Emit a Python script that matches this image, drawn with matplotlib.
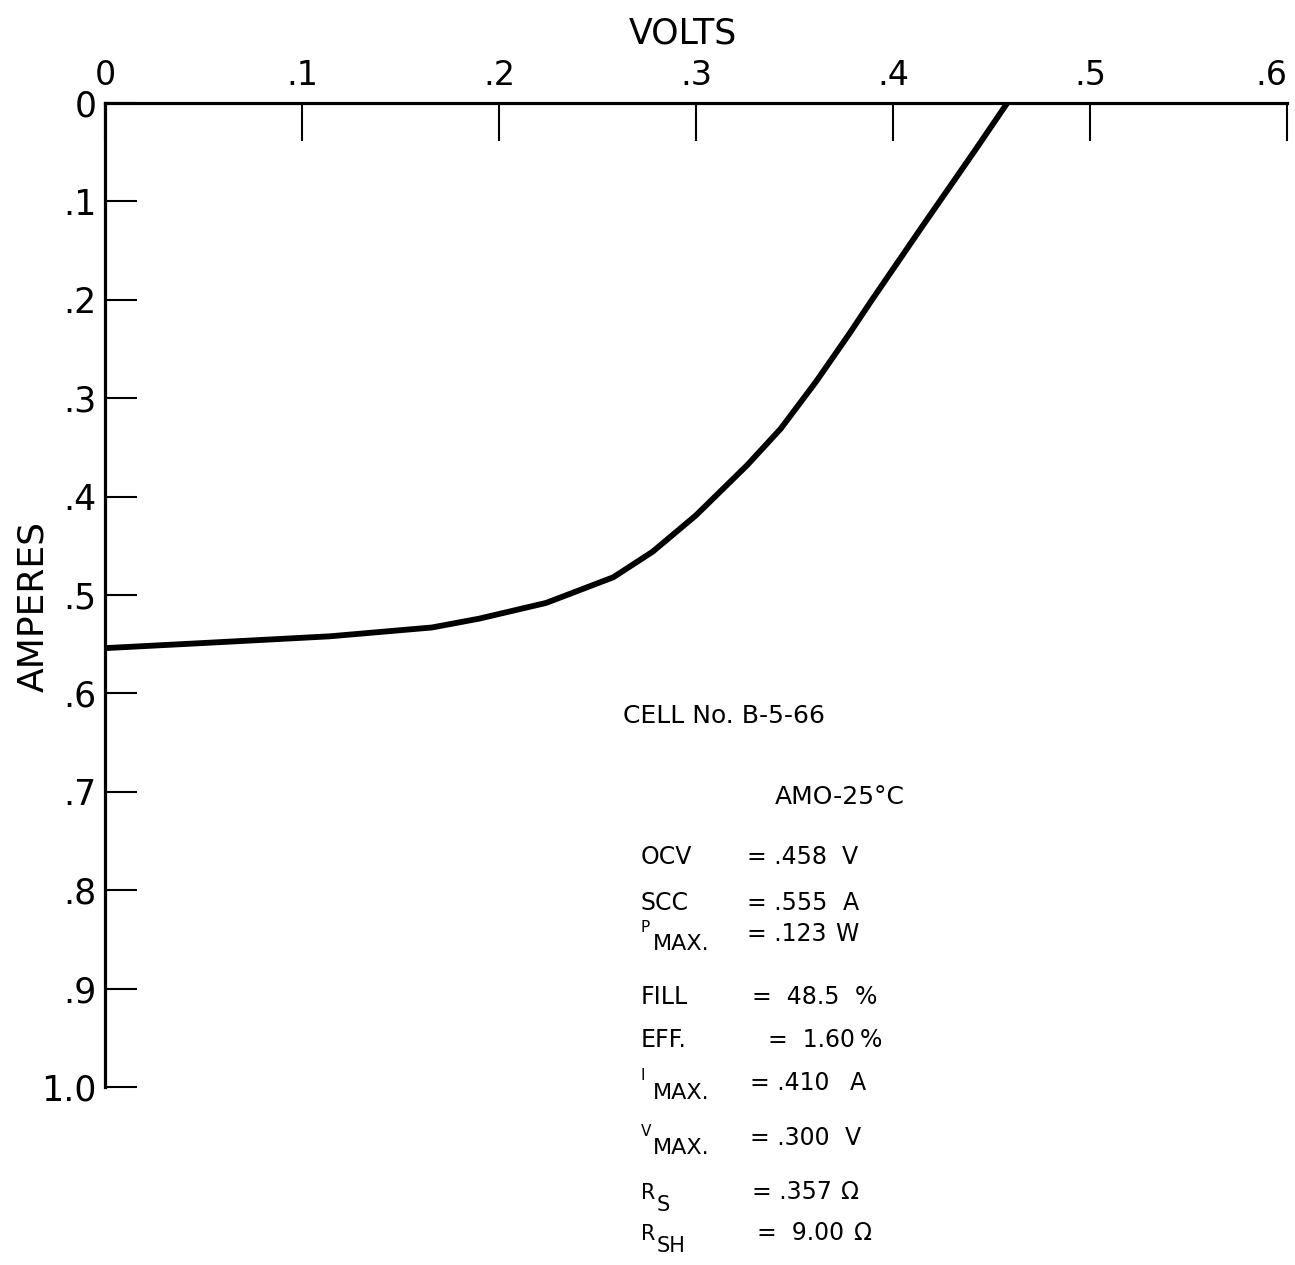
import numpy as np
import matplotlib
matplotlib.use("Agg")
import matplotlib.pyplot as plt

# I-V curve (volts, amperes)
volts = [0.0, 0.048, 0.114, 0.166, 0.190, 0.224, 0.258, 0.278, 0.300, 0.326,
         0.343, 0.361, 0.378, 0.389, 0.415, 0.441, 0.458]
amps = [0.554, 0.549, 0.542, 0.533, 0.524, 0.508, 0.482, 0.456, 0.419, 0.368,
        0.331, 0.283, 0.234, 0.201, 0.125, 0.050, 0.0]

x_ticks = [0, 0.1, 0.2, 0.3, 0.4, 0.5, 0.6]
x_labels = ["0", ".1", ".2", ".3", ".4", ".5", ".6"]
y_ticks = [0, 0.1, 0.2, 0.3, 0.4, 0.5, 0.6, 0.7, 0.8, 0.9, 1.0]
y_labels = ["0", ".1", ".2", ".3", ".4", ".5", ".6", ".7", ".8", ".9", "1.0"]

# cell data block
cell_title = "CELL No. B-5-66"
cell_cond = "AMO-25°C"
row_names = ["OCV", "SCC", "P", "FILL", "EFF.", "I", "V", "R", "R"]
row_subs = ["", "", "MAX.", "", "", "MAX.", "MAX.", "S", "SH"]
row_nums = [".458", ".555", ".123", "48.5", "1.60", ".410", ".300", ".357", "9.00"]
row_units = ["V", "A", "W", "%", "%", "A", "V", "Ω", "Ω"]

W, H = 1295, 1265
fig = plt.figure(figsize=(W / 100, H / 100), dpi=100)
plt.rcParams['font.family'] = ['DejaVu Sans']

x0, x1 = 105, 1287
y0, y1 = 103, 1087
ax = fig.add_axes([x0 / W, 1 - y1 / H, (x1 - x0) / W, (y1 - y0) / H])

ax.plot(volts, amps, color="black", lw=4.2, solid_joinstyle="round")

ax.set_xlim(0, 0.6)
ax.set_ylim(1.0, 0)
for s in ["right", "bottom"]:
    ax.spines[s].set_visible(False)
ax.spines["top"].set_linewidth(2.3)
ax.spines["left"].set_linewidth(2.3)

ax.xaxis.tick_top()
ax.set_xticks(x_ticks)
ax.set_xticklabels(x_labels)
ax.set_yticks(y_ticks)
ax.set_yticklabels(y_labels)
ax.tick_params(axis="x", direction="in", length=27, width=1.5, pad=8, labelsize=24)
ax.tick_params(axis="y", direction="in", length=23, width=1.5, pad=6, labelsize=25)
ax.get_xticklabels()[-1].set_ha("right")

ax.text((683 - x0) / (x1 - x0), 1 + (y0 - 33) / (y1 - y0), "VOLTS",
        transform=ax.transAxes, fontsize=25, ha="center", va="center")
ax.set_ylabel("AMPERES", fontsize=26, va="center")
ax.yaxis.set_label_coords((33 - x0) / (x1 - x0), 1 - (606 - y0) / (y1 - y0))


def ftxt(px, py, s, size=17, **kw):
    fig.text(px / W, 1 - py / H, s, fontsize=size, va="center", ha="left", **kw)


ftxt(623, 716, cell_title, size=18)
ftxt(775, 797, cell_cond, size=18)

# row layout: value line y, "=" x, gap before the number, unit x
val_y = [857, 903, 934, 997, 1040, 1083, 1138, 1192, 1233]
eq_x = [747, 747, 747, 752, 768, 750, 750, 752, 757]
gaps = [" ", " ", " ", "  ", "  ", " ", " ", " ", "  "]
unit_x = [842, 843, 835, 855, 860, 850, 845, 840, 853]
for i in range(len(row_names)):
    py = val_y[i]
    if row_subs[i] == "MAX.":
        ftxt(641, py - 7, row_names[i], size=11)
        ftxt(653, py + 10, row_subs[i], size=16)
    elif row_subs[i]:
        ftxt(641, py + 1, row_names[i], size=15)
        ftxt(657, py + 13, row_subs[i], size=15)
    else:
        ftxt(641, py, row_names[i], size=17)
    ftxt(eq_x[i], py, "=" + gaps[i] + row_nums[i], size=17)
    ftxt(unit_x[i], py, row_units[i], size=17)

fig.savefig("out.png", dpi=100, facecolor="white")
